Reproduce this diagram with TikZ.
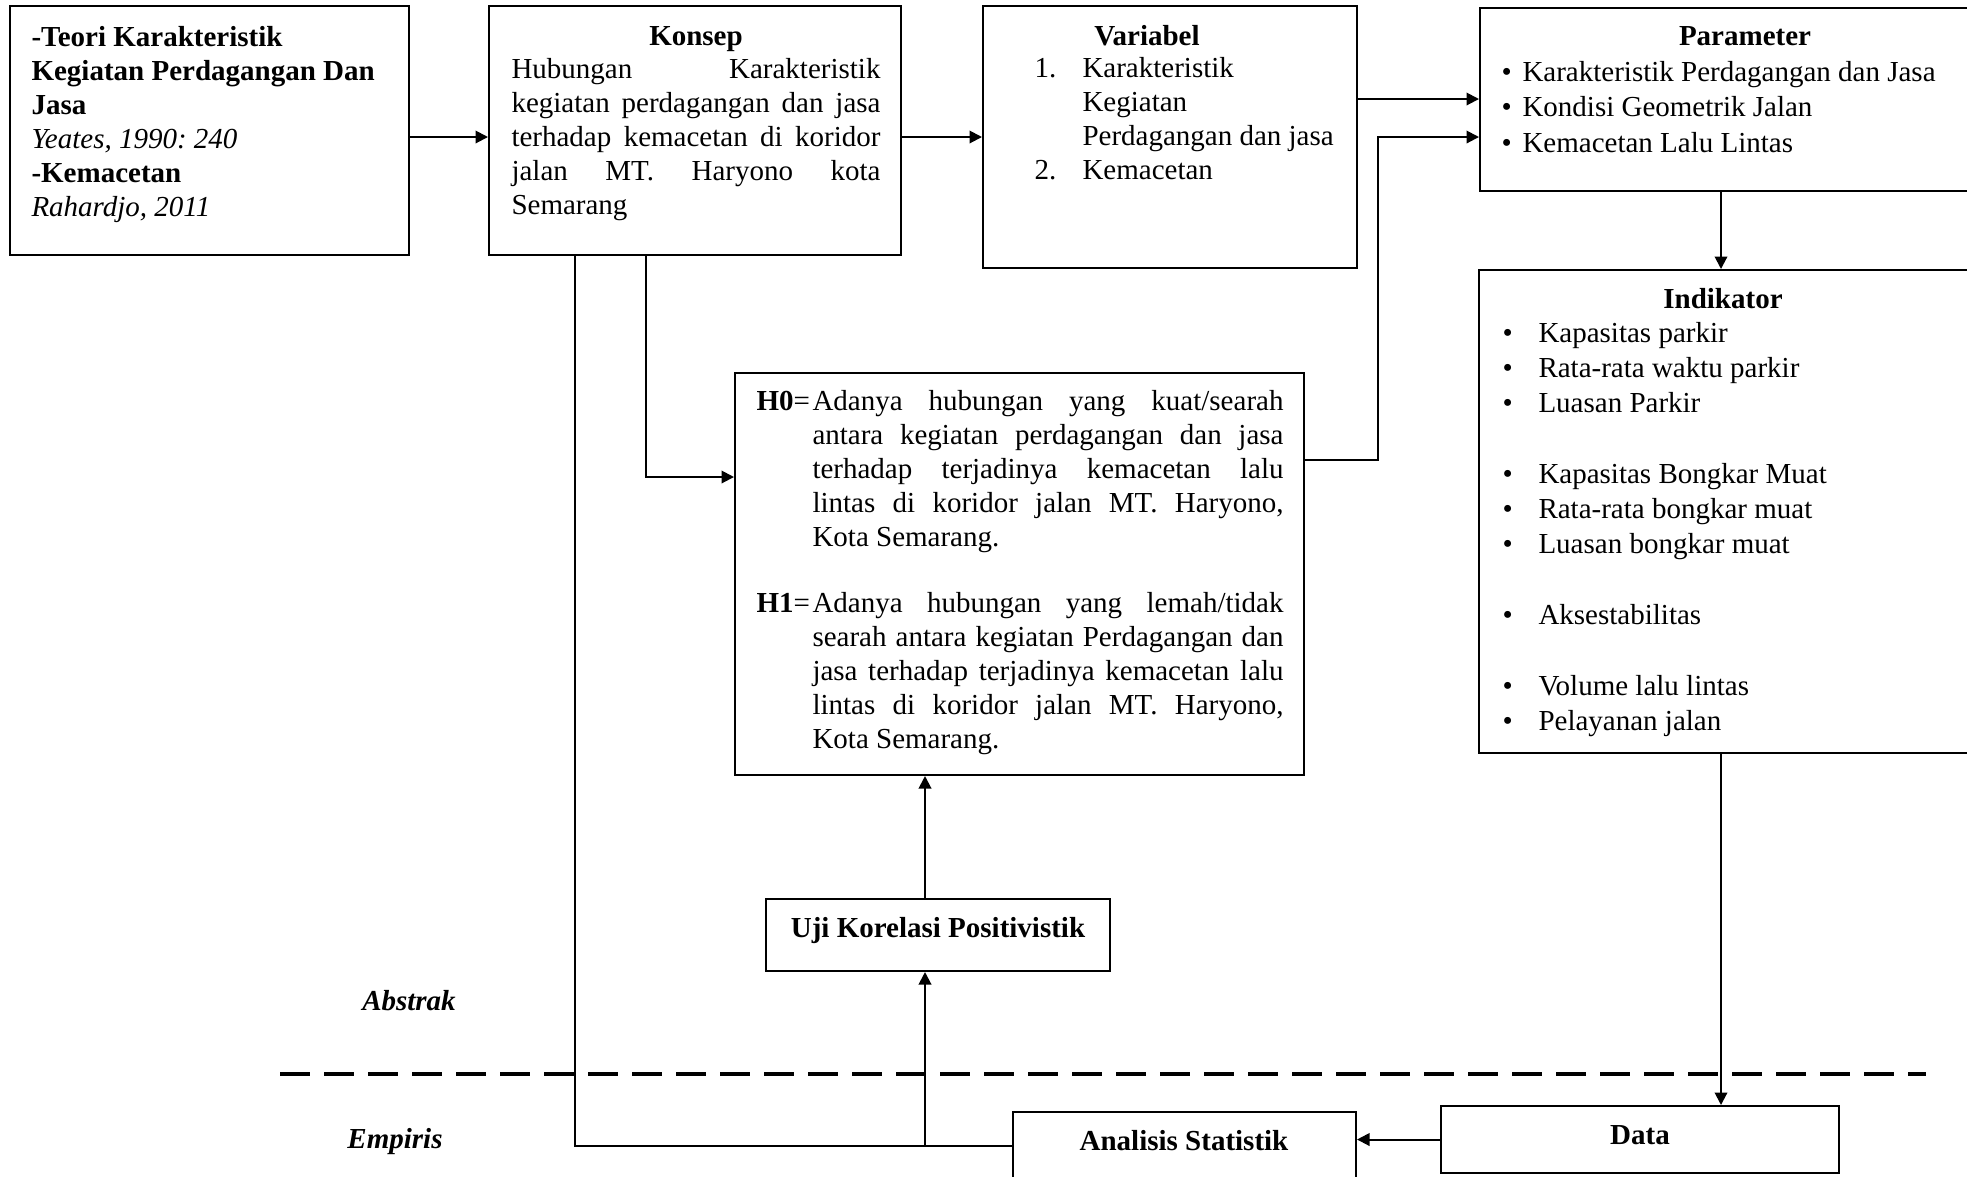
\documentclass[tikz,border=0pt]{standalone}
\usepackage{fontspec}
\setmainfont{Liberation Serif}
\usetikzlibrary{arrows.meta,fit}
\newcommand{\fillline}[2]{\makebox[#1][s]{\spaceskip=0pt\xspaceskip=0pt #2}}
\frenchspacing

\begin{document}
\begin{tikzpicture}[x=0.4pt, y=-0.4pt,
		box/.style={draw, line width=0.8pt, inner sep=0pt},
		txt/.style={inner sep=0pt, font=\fontsize{11.6pt}{13.6pt}\selectfont},
		lst/.style={txt, align=justify, anchor=base west},
		arr/.style={-{Triangle[length=5pt,width=5pt]}, line width=0.8pt},
		link/.style={line width=0.7pt}]
		%%%%% START %%%%%
		\clip (0,0) rectangle (1967,1176);
		
		% boxes
		\node[box, fit={(10,6) (409,255)}] (teori) {};
		\node[box, fit={(489,6) (901,255)}] (konsep) {};
		\node[box, fit={(983,6) (1357,268)}] (variabel) {};
		\node[box, fit={(1480,8) (1972,191)}] (param) {};
		\node[box, fit={(1479,270) (1972,753)}] (indikator) {};
		\node[box, fit={(735,373) (1304,775)}] (hipotesis) {};
		\node[box, fit={(766,899) (1110,971)}] (uji) {};
		\node[box, fit={(1013,1112) (1356,1192)}] (analisis) {};
		\node[box, fit={(1441,1106) (1839,1173)}] (data) {};
		
		% texts
		\node[lst, text width=152pt] (teori-txt) at (31,46) {\textbf{-Teori Karakteristik}\\ \textbf{Kegiatan Perdagangan Dan}\\ \textbf{Jasa}\\ \textit{Yeates, 1990: 240}\\ \textbf{-Kemacetan}\\ \textit{Rahardjo, 2011}};
		
		\node[txt, anchor=base] (konsep-title) at (696,45) {\textbf{Konsep}};
		\node[lst, text width=147.6pt] (konsep-txt) at (511,78) {\fillline{147.6pt}{Hubungan Karakteristik}\\ \fillline{147.6pt}{kegiatan perdagangan dan jasa}\\ \fillline{147.6pt}{terhadap kemacetan di koridor}\\ \fillline{147.6pt}{jalan MT. Haryono kota}\\ Semarang};
		
		\node[txt, anchor=base] (variabel-title) at (1147,45) {\textbf{Variabel}};
		\node[lst, text width=128pt] (variabel-txt) at (1034,77) {\makebox[19.2pt][l]{1.}Karakteristik\\ \hspace*{19.2pt}Kegiatan\\ \hspace*{19.2pt}Perdagangan dan jasa\\ \makebox[19.2pt][l]{2.}Kemacetan};
		
		\node[txt, anchor=base] (param-title) at (1745,45) {\textbf{Parameter}};
		\node[lst, text width=180pt, font=\fontsize{11.6pt}{14.2pt}\selectfont] (param-txt) at (1501,81) {\makebox[8.4pt][l]{\textbullet}Karakteristik Perdagangan dan Jasa\\ \makebox[8.4pt][l]{\textbullet}Kondisi Geometrik Jalan\\ \makebox[8.4pt][l]{\textbullet}Kemacetan Lalu Lintas};
		
		\node[txt, anchor=base] (indikator-title) at (1723,308) {\textbf{Indikator}};
		\node[lst, text width=170pt, font=\fontsize{11.6pt}{14.12pt}\selectfont] (indikator-txt) at (1502,342) {\makebox[14.4pt][l]{\textbullet}Kapasitas parkir\\ \makebox[14.4pt][l]{\textbullet}Rata-rata waktu parkir\\ \makebox[14.4pt][l]{\textbullet}Luasan Parkir\\ \mbox{}\\ \makebox[14.4pt][l]{\textbullet}Kapasitas Bongkar Muat\\ \makebox[14.4pt][l]{\textbullet}Rata-rata bongkar muat\\ \makebox[14.4pt][l]{\textbullet}Luasan bongkar muat\\ \mbox{}\\ \makebox[14.4pt][l]{\textbullet}Aksestabilitas\\ \mbox{}\\ \makebox[14.4pt][l]{\textbullet}Volume lalu lintas\\ \makebox[14.4pt][l]{\textbullet}Pelayanan jalan};
		
		\node[txt, anchor=base west] (h0) at (756,410) {\textbf{H0}=};
		\node[lst, text width=188.4pt] (h0-txt) at (812,410) {\fillline{188.4pt}{Adanya hubungan yang kuat/searah}\\ \fillline{188.4pt}{antara kegiatan perdagangan dan jasa}\\ \fillline{188.4pt}{terhadap terjadinya kemacetan lalu}\\ \fillline{188.4pt}{lintas di koridor jalan MT. Haryono,}\\ Kota Semarang.};
		\node[txt, anchor=base west] (h1) at (756,612) {\textbf{H1}=};
		\node[lst, text width=188.4pt] (h1-txt) at (812,612) {\fillline{188.4pt}{Adanya hubungan yang lemah/tidak}\\ \fillline{188.4pt}{searah antara kegiatan Perdagangan dan}\\ \fillline{188.4pt}{jasa terhadap terjadinya kemacetan lalu}\\ \fillline{188.4pt}{lintas di koridor jalan MT. Haryono,}\\ Kota Semarang.};
		
		\node[txt, anchor=base] (uji-txt) at (938,937) {\textbf{Uji Korelasi Positivistik}};
		\node[txt, anchor=base] (analisis-txt) at (1184,1150) {\textbf{Analisis Statistik}};
		\node[txt, anchor=base] (data-txt) at (1640,1144) {\textbf{Data}};
		
		\node[txt, anchor=base] (abstrak) at (409,1010) {\textbf{\textit{Abstrak}}};
		\node[txt, anchor=base] (empiris) at (395,1148) {\textbf{\textit{Empiris}}};
		
		% abstrak / empiris divider
		\draw[line width=1.6pt, dash pattern=on 12pt off 5.6pt] (280,1074) -- (1926,1074);
		
		% connectors
		\coordinate (row) at (0,137);
		\coordinate (rowb) at (0,99);
		\coordinate (hout) at (0,460);
		\coordinate (bend) at (1378,137);
		\coordinate (kdrop) at (646,477);
		\coordinate (base) at (575,1146);
		\coordinate (upx) at (925,1146);
		\coordinate (colr) at (1721,0);
		
		\draw[arr] (teori.east |- row) -- (konsep.west |- row);
		\draw[arr] (konsep.east |- row) -- (variabel.west |- row);
		\draw[arr] (variabel.east |- rowb) -- (param.west |- rowb);
		\draw[arr] (hipotesis.east |- hout) -| (bend) -- (param.west |- bend);
		\draw[arr] (konsep.south -| kdrop) |- (hipotesis.west |- kdrop);
		\draw[link] (konsep.south -| base) -- (base) -- (analisis.west |- base);
		\draw[arr] (upx) -- (uji.south -| upx);
		\draw[arr] (uji.north -| upx) -- (hipotesis.south -| upx);
		\draw[arr] (param.south -| colr) -- (indikator.north -| colr);
		\draw[arr] (indikator.south -| colr) -- (data.north -| colr);
		\draw[arr] (data.west) -- (data.west -| analisis.east);
		
		%%%%% END %%%%%
\end{tikzpicture}
\end{document}
